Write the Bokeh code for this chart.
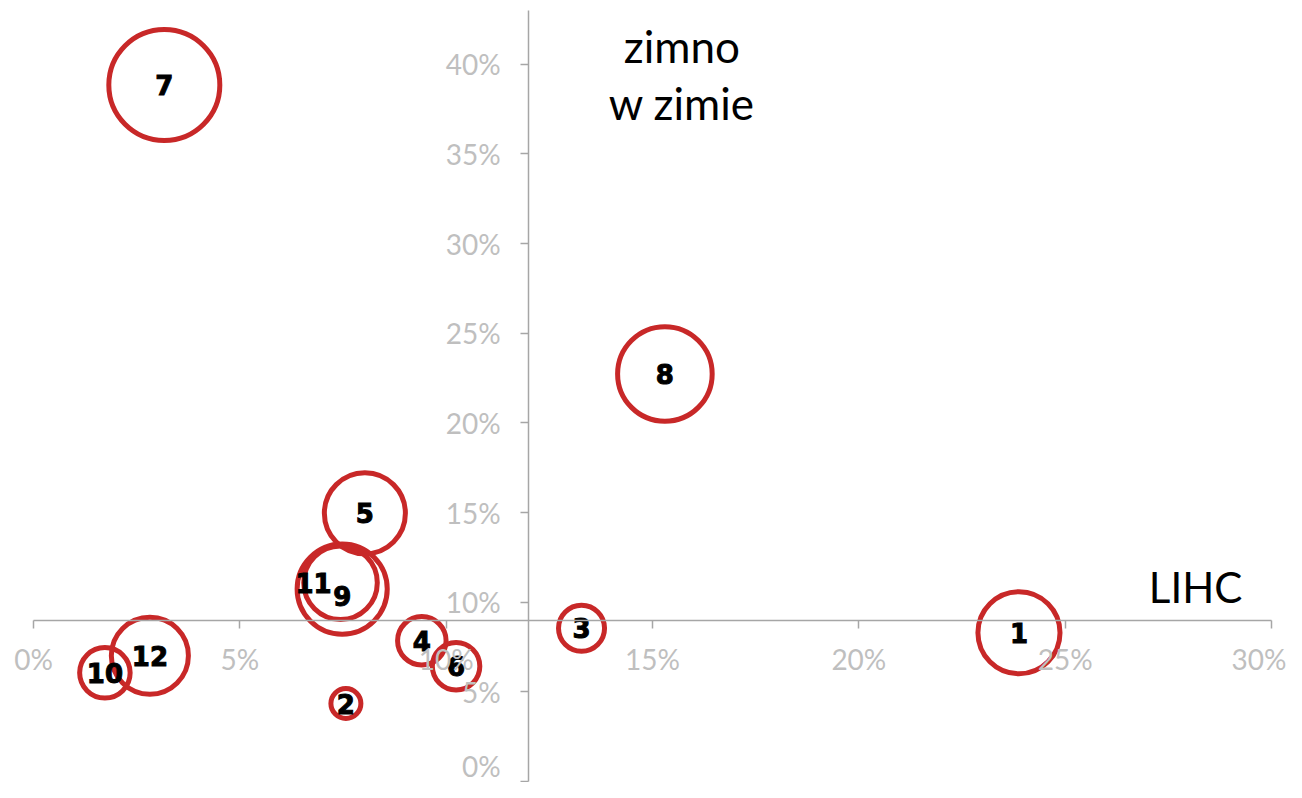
from bokeh.plotting import figure
from bokeh.models import ColumnDataSource, NumeralTickFormatter, FixedTicker, Range1d, Label
from bokeh.core.properties import value
from bokeh.embed import file_html
from bokeh.resources import INLINE
import math

# ---- data ----
labels = ["1", "2", "3", "4", "5", "6", "7", "8", "9", "10", "11", "12"]
lihc = [0.2388, 0.0757, 0.1328, 0.0941, 0.0803, 0.1024, 0.0317, 0.1530, 0.0748, 0.0173, 0.0744, 0.0282]
zimno = [0.0830, 0.0435, 0.0855, 0.0785, 0.1496, 0.0643, 0.3884, 0.2273, 0.1073, 0.0606, 0.1109, 0.0701]
bubble_size = [54.7, 7.3, 17.2, 19.1, 53.3, 18.3, 100.0, 72.6, 65.9, 20.7, 43.9, 48.2]
x_ticks = [0, 0.05, 0.10, 0.15, 0.20, 0.25, 0.30]
y_ticks = [0, 0.05, 0.10, 0.15, 0.20, 0.25, 0.30, 0.35, 0.40]

# ---- styling ----
SCALE = 11.1  # px diameter per sqrt(size)
label_dx = [0, 0, 0, 0, 0, 0, 0, 0, 0, 0, -27, 0]
label_dy = [0, 0, 0, 0, 0, 0, 0, 0, 7, 0, 0, 0]

src = ColumnDataSource(dict(
    x=lihc, y=zimno, lab=labels,
    d=[SCALE * math.sqrt(s) for s in bubble_size],
    dx=label_dx, dy=label_dy,
))

p = figure(width=1286, height=782, output_backend="svg", toolbar_location=None,
           x_range=Range1d(-0.007997, 0.30363), y_range=Range1d(-0.000558, 0.43558),
           min_border=0)
p.outline_line_color = None
p.grid.visible = False
p.background_fill_color = "white"
p.border_fill_color = "white"

for ax, loc, ticks, bounds in ((p.xaxis[0], 0.09, x_ticks, (0, 0.30)),
                               (p.yaxis[0], 0.12, y_ticks, (0, 0.43))):
    ax.fixed_location = loc
    ax.bounds = bounds
    ax.ticker = FixedTicker(ticks=ticks)
    ax.formatter = NumeralTickFormatter(format="0%")
    ax.axis_line_color = "#A6A6A6"
    ax.axis_line_width = 1.5
    ax.major_tick_line_color = "#A6A6A6"
    ax.major_tick_line_width = 1.5
    ax.major_tick_in = 0
    ax.major_tick_out = 8
    ax.minor_tick_line_color = None
    ax.major_label_text_color = "#BFBFBF"
    ax.major_label_text_font = "Lato"
    ax.major_label_text_font_size = "28px"
p.xaxis[0].major_label_standoff = 14
p.yaxis[0].major_label_standoff = 20

p.scatter("x", "y", source=src, size="d", marker="circle", fill_alpha=0,
          line_color="#C82828", line_width=5)

t = p.text("x", "y", text="lab", source=src, x_offset="dx", y_offset="dy",
           text_align="center", text_baseline="middle",
           text_font=value("DejaVu Sans"), text_font_style="bold",
           text_font_size="26px", text_color="black")
try:
    t.glyph.text_outline_color = "black"
except Exception:
    pass

for txt, x, y, size in (("zimno", 0.1571, 0.4100, "44px"),
                        ("w zimie", 0.1571, 0.3782, "44px"),
                        ("LIHC", 0.2816, 0.1082, "42px")):
    p.add_layout(Label(x=x, y=y, text=txt, text_align="center", text_baseline="alphabetic",
                       text_font="Lato", text_font_size=size, text_color="black"))

open("out.html", "w").write(file_html(p, INLINE))
